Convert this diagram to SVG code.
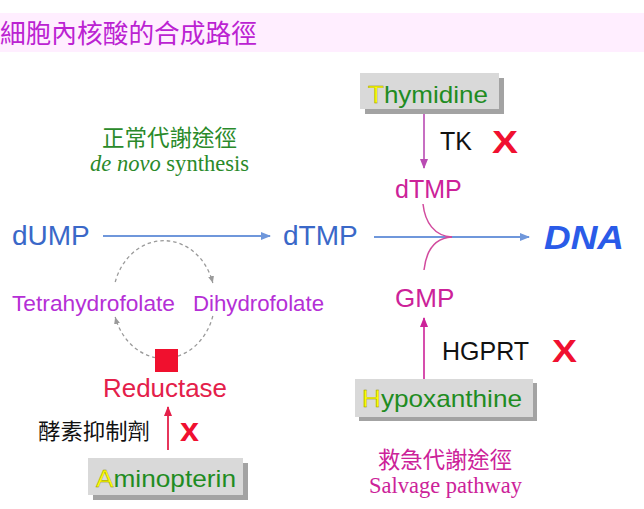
<svg xmlns="http://www.w3.org/2000/svg" width="644" height="509" viewBox="0 0 644 509">
<style>
.s{font-family:"Liberation Sans",Arial,"Noto Sans CJK TC",sans-serif}
.cjk{font-family:"Noto Sans CJK TC","Noto Sans CJK SC",sans-serif}
.serif{font-family:"Liberation Serif","Times New Roman",serif}
.box{fill:#d9d9d9}
.shadow{fill:#a3a3a3}
.boxt{font-size:24px;fill:#1f8c22}
.ini{fill:#ffff00;stroke:#8c8c00;stroke-width:0.4}
.blue{fill:#3a68c8;font-size:28px}
.mag{fill:#cc2299}
.purple{fill:#b52fd6;font-size:22.5px}
.xmark{fill:#f01030;font-weight:bold}
.blueline{stroke:#6f97db;stroke-width:2;fill:none}
.dash{stroke:#9a9a9a;stroke-width:1.3;fill:none;stroke-dasharray:3.5 3}
</style>
<defs>
<marker id="ab" markerUnits="userSpaceOnUse" markerWidth="10" markerHeight="10" refX="9" refY="5" orient="auto"><path d="M0,1 L10,5 L0,9 z" fill="#6f97db"/></marker>
<marker id="am" markerUnits="userSpaceOnUse" markerWidth="10" markerHeight="10" refX="9" refY="5" orient="auto"><path d="M0,1 L10,5 L0,9 z" fill="#b94bb3"/></marker>
<marker id="am2" markerUnits="userSpaceOnUse" markerWidth="10" markerHeight="10" refX="9" refY="5" orient="auto"><path d="M0,1 L10,5 L0,9 z" fill="#cc2299"/></marker>
<marker id="ar" markerUnits="userSpaceOnUse" markerWidth="10" markerHeight="10" refX="9" refY="5" orient="auto"><path d="M0,1 L10,5 L0,9 z" fill="#e4204a"/></marker>
<marker id="ag" markerUnits="userSpaceOnUse" markerWidth="8" markerHeight="8" refX="7" refY="4" orient="auto"><path d="M0,1 L7,4 L0,7 z" fill="#9a9a9a"/></marker>
</defs>

<g id="title">
<rect x="0" y="13" width="644" height="39" fill="#ffeeff"/>
<text x="0" y="43" class="cjk" font-size="25.7" fill="#bb22d2">細胞內核酸的合成路徑</text>
</g>

<g id="connectors">
<line class="blueline" x1="103" y1="236" x2="270" y2="236" marker-end="url(#ab)"/>
<line class="blueline" x1="374" y1="237" x2="529" y2="237" marker-end="url(#ab)"/>
<path d="M423,204 C425,222 434,236 452,237" stroke="#d24b9e" stroke-width="1.5" fill="none"/>
<path d="M424,270 C426,252 434,238 452,237" stroke="#d24b9e" stroke-width="1.5" fill="none"/>
<line x1="424" y1="114" x2="424" y2="168" stroke="#b94bb3" stroke-width="1.6" marker-end="url(#am)"/>
<line x1="424" y1="379" x2="424" y2="318" stroke="#cc2299" stroke-width="1.6" marker-end="url(#am2)"/>
<line x1="168" y1="450" x2="168" y2="407" stroke="#e4204a" stroke-width="1.8" marker-end="url(#ar)"/>
<path class="dash" d="M115.2,282 A51,59 0 0 1 212.8,283" marker-end="url(#ag)"/>
<path class="dash" d="M212.8,316 A51,59 0 0 1 115.2,317" marker-end="url(#ag)"/>
</g>

<g id="denovo-label">
<text x="102" y="146" class="cjk" font-size="22.5" fill="#2a8a2a" textLength="135" lengthAdjust="spacingAndGlyphs">正常代謝途徑</text>
<text x="90" y="171" class="serif" font-size="22.5" fill="#2a8a2a" textLength="159" lengthAdjust="spacingAndGlyphs"><tspan font-style="italic">de novo</tspan> synthesis</text>
</g>

<g id="dUMP"><text x="12" y="245" class="s blue">dUMP</text></g>
<g id="dTMP"><text x="283" y="245" class="s blue">dTMP</text></g>
<g id="DNA"><text x="544" y="249" class="s" font-size="34" font-weight="bold" font-style="italic" fill="#2a5be8" textLength="80" lengthAdjust="spacingAndGlyphs">DNA</text></g>

<g id="thymidine">
<rect class="shadow" x="365" y="78" width="139" height="36"/>
<rect class="box" x="360" y="73" width="139" height="36"/>
<text x="368" y="103" class="s boxt" textLength="120" lengthAdjust="spacingAndGlyphs"><tspan class="ini">T</tspan>hymidine</text>
</g>

<g id="TK">
<text x="440" y="150" class="s" font-size="25" fill="#111">TK</text>
<text x="492" y="153" class="s xmark" font-size="32" textLength="26" lengthAdjust="spacingAndGlyphs">X</text>
</g>

<g id="dTMP-salvage"><text x="395" y="198" class="s mag" font-size="25">dTMP</text></g>
<g id="GMP"><text x="395" y="307" class="s mag" font-size="26">GMP</text></g>

<g id="HGPRT">
<text x="442" y="360" class="s" font-size="25" fill="#111">HGPRT</text>
<text x="552" y="362" class="s xmark" font-size="32" textLength="25" lengthAdjust="spacingAndGlyphs">X</text>
</g>

<g id="hypoxanthine">
<rect class="shadow" x="359" y="383" width="178" height="38"/>
<rect class="box" x="355" y="379" width="178" height="38"/>
<text x="362" y="407" class="s boxt" textLength="160" lengthAdjust="spacingAndGlyphs"><tspan class="ini">H</tspan>ypoxanthine</text>
</g>

<g id="salvage-label">
<text x="378" y="468" class="cjk" font-size="22.5" fill="#cc2299" textLength="134" lengthAdjust="spacingAndGlyphs">救急代謝途徑</text>
<text x="369" y="493" class="serif" font-size="22.5" fill="#cc2299" textLength="153" lengthAdjust="spacingAndGlyphs">Salvage pathway</text>
</g>

<g id="tetrahydrofolate"><text x="12" y="311" class="s purple" textLength="163" lengthAdjust="spacingAndGlyphs">Tetrahydrofolate</text></g>
<g id="dihydrofolate"><text x="193" y="311" class="s purple" textLength="131" lengthAdjust="spacingAndGlyphs">Dihydrofolate</text></g>

<g id="reductase">
<rect x="155" y="349" width="23" height="23" fill="#f0102e"/>
<text x="103" y="397" class="s" font-size="25.5" fill="#e4204a" textLength="124" lengthAdjust="spacingAndGlyphs">Reductase</text>
</g>

<g id="inhibitor-label">
<text x="38" y="439" class="cjk" font-size="22" fill="#111" textLength="112" lengthAdjust="spacingAndGlyphs">酵素抑制劑</text>
<text x="180" y="441" class="s xmark" font-size="33" fill="#e4204a" textLength="19" lengthAdjust="spacingAndGlyphs">x</text>
</g>

<g id="aminopterin">
<rect class="shadow" x="93" y="463" width="155" height="37"/>
<rect class="box" x="88" y="458" width="155" height="37"/>
<text x="96" y="487" class="s boxt" textLength="140" lengthAdjust="spacingAndGlyphs"><tspan class="ini">A</tspan>minopterin</text>
</g>
</svg>
